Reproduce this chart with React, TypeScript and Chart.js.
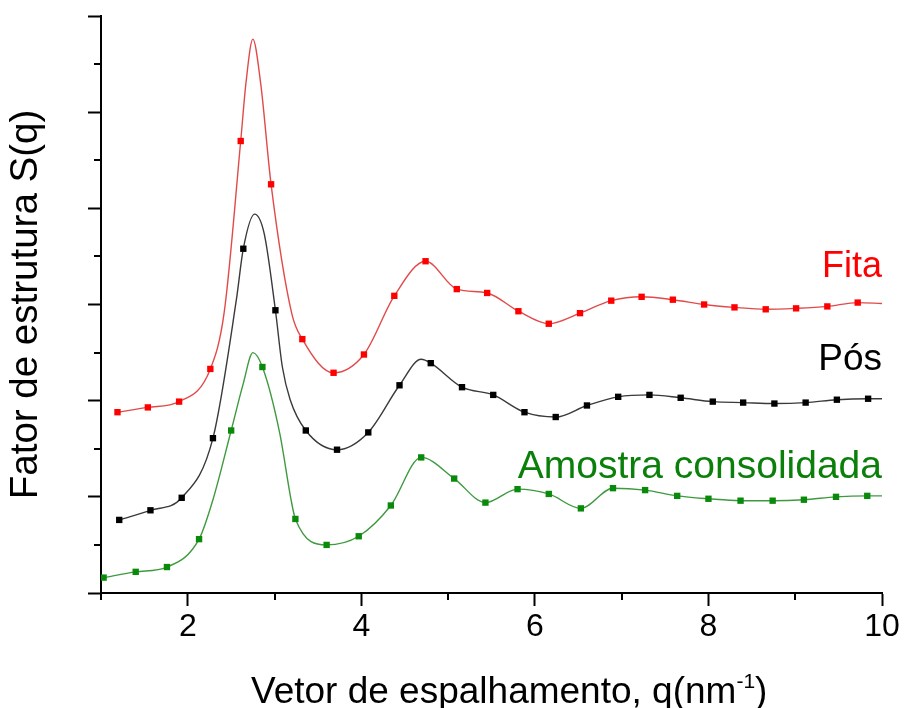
import React, { useEffect, useRef } from 'react';
import { Chart, registerables } from 'chart.js';

Chart.register(...registerables);

// ---------- data ----------
const xTickLabels = [2, 4, 6, 8, 10];

// Fita (red) – square markers
const fitaMarkQ = [1.19, 1.54, 1.90, 2.26, 2.61, 2.96, 3.32, 3.68, 4.03, 4.38, 4.74, 5.10, 5.45, 5.81, 6.16, 6.52, 6.88, 7.23, 7.59, 7.95, 8.30, 8.66, 9.01, 9.37, 9.72];
const fitaMarkS = [1.88, 1.93, 1.99, 2.33, 4.70, 4.25, 2.64, 2.29, 2.48, 3.09, 3.45, 3.16, 3.12, 2.93, 2.80, 2.91, 3.04, 3.08, 3.05, 3.00, 2.97, 2.95, 2.96, 2.98, 3.02];
// Fita – points
const fitaLineQ = [1.19, 1.54, 1.90, 2.26, 2.42, 2.61, 2.67, 2.75, 2.84, 2.96, 3.20, 3.32, 3.68, 4.03, 4.38, 4.74, 5.10, 5.45, 5.81, 6.16, 6.52, 6.88, 7.23, 7.59, 7.95, 8.30, 8.66, 9.01, 9.37, 9.72, 10.0];
const fitaLineS = [1.88, 1.93, 1.99, 2.33, 2.92, 4.70, 5.30, 5.76, 5.30, 4.25, 2.90, 2.64, 2.29, 2.48, 3.09, 3.45, 3.16, 3.12, 2.93, 2.80, 2.91, 3.04, 3.08, 3.05, 3.00, 2.97, 2.95, 2.96, 2.98, 3.02, 3.01];

// Pós (black)
const posMarkQ = [1.21, 1.57, 1.93, 2.29, 2.64, 3.01, 3.36, 3.72, 4.08, 4.44, 4.80, 5.16, 5.52, 5.88, 6.24, 6.60, 6.96, 7.32, 7.68, 8.05, 8.40, 8.76, 9.12, 9.48, 9.84];
const posMarkS = [0.76, 0.86, 0.99, 1.61, 3.58, 2.94, 1.69, 1.49, 1.67, 2.16, 2.39, 2.14, 2.06, 1.88, 1.83, 1.95, 2.04, 2.06, 2.03, 1.99, 1.98, 1.97, 1.98, 2.01, 2.02];
const posLineQ = [1.21, 1.57, 1.93, 2.29, 2.56, 2.64, 2.77, 2.88, 3.01, 3.09, 3.18, 3.36, 3.72, 4.08, 4.44, 4.69, 4.80, 5.16, 5.52, 5.88, 6.24, 6.60, 6.96, 7.32, 7.68, 8.05, 8.40, 8.76, 9.12, 9.48, 9.84, 10.0];
const posLineS = [0.76, 0.86, 0.99, 1.61, 3.05, 3.58, 3.94, 3.74, 2.94, 2.35, 2.01, 1.69, 1.49, 1.67, 2.16, 2.43, 2.39, 2.14, 2.06, 1.88, 1.83, 1.95, 2.04, 2.06, 2.03, 1.99, 1.98, 1.97, 1.98, 2.01, 2.02, 2.02];

// Amostra consolidada (green)
const amoMarkQ = [1.03, 1.40, 1.76, 2.13, 2.50, 2.86, 3.24, 3.60, 3.97, 4.34, 4.69, 5.07, 5.43, 5.80, 6.16, 6.53, 6.90, 7.27, 7.64, 8.00, 8.37, 8.74, 9.10, 9.47, 9.83];
const amoMarkS = [0.16, 0.22, 0.27, 0.56, 1.69, 2.35, 0.77, 0.50, 0.59, 0.91, 1.41, 1.19, 0.94, 1.08, 1.03, 0.88, 1.09, 1.07, 1.01, 0.98, 0.96, 0.96, 0.97, 1.00, 1.01];
const amoLineQ = [1.03, 1.40, 1.76, 2.13, 2.29, 2.50, 2.64, 2.75, 2.86, 3.06, 3.19, 3.24, 3.60, 3.97, 4.34, 4.69, 5.07, 5.43, 5.80, 6.16, 6.53, 6.90, 7.27, 7.64, 8.00, 8.37, 8.74, 9.10, 9.47, 9.83, 10.0];
const amoLineS = [0.16, 0.22, 0.27, 0.56, 0.97, 1.69, 2.18, 2.50, 2.35, 1.66, 0.97, 0.77, 0.50, 0.59, 0.91, 1.41, 1.19, 0.94, 1.08, 1.03, 0.88, 1.09, 1.07, 1.01, 0.98, 0.96, 0.96, 0.97, 1.00, 1.01, 1.01];

// in-plot series labels
const labelTexts = ['Fita', 'Pós', 'Amostra consolidada'];
const labelS = [3.29, 2.32, 1.20];

// ---------- styles ----------
const FONT = "'Liberation Sans', Arial, sans-serif";
const markColors = ['#ff0000', '#000000', '#0a8a0a'];
const lineColors = ['#e24a4a', '#3a3a3a', '#3f9a3f'];
const labelColors = ['#ff0000', '#000000', '#0a800a'];
const labelSizes = [36, 37, 39];

const zip = (xs: number[], ys: number[]) => xs.map((x, i) => ({ x, y: ys[i] }));

const minorTicks = {
  id: 'minorTicks',
  afterDraw(chart: any) {
    const { ctx } = chart;
    const xs = chart.scales.x;
    const ys = chart.scales.y;
    ctx.save();
    ctx.strokeStyle = '#000';
    ctx.lineWidth = 2;
    ctx.beginPath();
    xs.ticks.forEach((t: any) => {
      if (!xTickLabels.includes(t.value)) {
        const px = Math.round(xs.getPixelForValue(t.value));
        ctx.moveTo(px, ys.bottom);
        ctx.lineTo(px, ys.bottom + 7);
      }
    });
    ys.ticks.forEach((t: any) => {
      if (!Number.isInteger(t.value)) {
        const py = Math.round(ys.getPixelForValue(t.value));
        ctx.moveTo(xs.left - 7, py);
        ctx.lineTo(xs.left, py);
      }
    });
    ctx.stroke();
    ctx.restore();
  },
};

const textPlugin = {
  id: 'texts',
  afterDraw(chart: any) {
    const { ctx } = chart;
    const xs = chart.scales.x;
    const ys = chart.scales.y;
    ctx.save();
    // series labels
    ctx.textAlign = 'right';
    ctx.textBaseline = 'alphabetic';
    labelTexts.forEach((t, i) => {
      ctx.font = `${labelSizes[i]}px ${FONT}`;
      ctx.fillStyle = labelColors[i];
      ctx.fillText(t, xs.getPixelForValue(10), ys.getPixelForValue(labelS[i]));
    });
    // x axis title with superscript
    const main = 'Vetor de espalhamento, q(nm';
    const sup = '-1';
    const end = ')';
    ctx.fillStyle = '#000';
    ctx.textAlign = 'left';
    ctx.font = `37px ${FONT}`;
    const wMain = ctx.measureText(main).width;
    ctx.font = `21px ${FONT}`;
    const wSup = ctx.measureText(sup).width;
    const baseY = chart.height - 5;
    let x0 = xs.left + 150;
    ctx.font = `37px ${FONT}`;
    ctx.fillText(main, x0, baseY);
    x0 += wMain;
    ctx.font = `21px ${FONT}`;
    ctx.fillText(sup, x0, baseY - 15);
    x0 += wSup;
    ctx.font = `37px ${FONT}`;
    ctx.fillText(end, x0, baseY);
    ctx.restore();
  },
};

export default function App() {
  const ref = useRef<HTMLCanvasElement | null>(null);

  useEffect(() => {
    if (!ref.current) return;
    const lineDs = (data: any[], color: string) => ({
      type: 'line',
      data,
      borderColor: color,
      borderWidth: 1.4,
      pointRadius: 0,
      pointHoverRadius: 0,
      fill: false,
      cubicInterpolationMode: 'monotone',
      order: 2,
    });
    const markDs = (data: any[], color: string) => ({
      type: 'line',
      data,
      showLine: false,
      pointStyle: 'rect',
      pointRadius: 4.5,
      pointBorderWidth: 0,
      pointBackgroundColor: color,
      borderColor: color,
      order: 1,
    });

    const chart = new Chart(ref.current, {
      type: 'line',
      data: {
        datasets: [
          markDs(zip(fitaMarkQ, fitaMarkS), markColors[0]),
          markDs(zip(posMarkQ, posMarkS), markColors[1]),
          markDs(zip(amoMarkQ, amoMarkS), markColors[2]),
          lineDs(zip(fitaLineQ, fitaLineS), lineColors[0]),
          lineDs(zip(posLineQ, posLineS), lineColors[1]),
          lineDs(zip(amoLineQ, amoLineS), lineColors[2]),
        ] as any,
      },
      options: {
        responsive: false,
        devicePixelRatio: 1,
        animation: false,
        layout: { padding: { top: 16, right: 22, left: 0, bottom: 0 } },
        plugins: { legend: { display: false }, tooltip: { enabled: false } },
        scales: {
          x: {
            type: 'linear',
            min: 1,
            max: 10,
            afterFit: (s: any) => {
              s.height = 115;
              s.paddingLeft = 0;
              s.paddingRight = 0;
            },
            ticks: {
              stepSize: 1,
              autoSkip: false,
              maxRotation: 0,
              padding: 2,
              color: '#000',
              font: { family: FONT, size: 32 },
              callback: (v: any) => (xTickLabels.includes(Number(v)) ? String(v) : ''),
            },
            grid: {
              drawOnChartArea: false,
              drawTicks: true,
              tickLength: 13,
              tickWidth: 2,
              tickColor: (c: any) => (c.tick && xTickLabels.includes(c.tick.value) ? '#000' : 'rgba(0,0,0,0)'),
            },
            border: { display: true, color: '#000', width: 2 },
          },
          y: {
            type: 'linear',
            min: 0,
            max: 6,
            afterFit: (s: any) => {
              s.width = 101;
              s.paddingTop = 0;
              s.paddingBottom = 0;
            },
            ticks: { stepSize: 0.5, display: false },
            grid: {
              drawOnChartArea: false,
              drawTicks: true,
              tickLength: 13,
              tickWidth: 2,
              tickColor: (c: any) => (c.tick && Number.isInteger(c.tick.value) ? '#000' : 'rgba(0,0,0,0)'),
            },
            border: { display: true, color: '#000', width: 2 },
            title: {
              display: true,
              text: 'Fator de estrutura S(q)',
              color: '#000',
              font: { family: FONT, size: 38.5 },
              padding: { top: 3, bottom: 0 },
            },
          },
        },
      } as any,
      plugins: [minorTicks, textPlugin],
    });
    return () => chart.destroy();
  }, []);

  return (
    <div style={{ position: 'absolute', left: 0, top: 0, width: 904, height: 708, background: '#fff' }}>
      <canvas ref={ref} width={904} height={708} style={{ display: 'block', width: 904, height: 708 }} />
    </div>
  );
}
